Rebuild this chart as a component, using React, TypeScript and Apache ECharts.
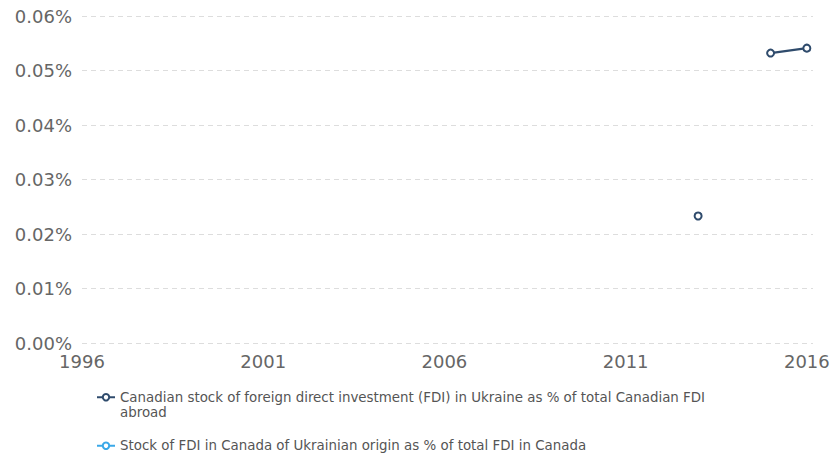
import React, { useEffect, useRef } from "react";
import * as echarts from "echarts";

const years = [1996, 1997, 1998, 1999, 2000, 2001, 2002, 2003, 2004, 2005, 2006, 2007, 2008, 2009, 2010, 2011, 2012, 2013, 2014, 2015, 2016];
const canadianStockShare: (number | null)[] = [null, null, null, null, null, null, null, null, null, null, null, null, null, null, null, null, null, 0.0233, null, 0.0532, 0.0541];
const ukrainianStockShare: (number | null)[] = years.map(() => null);
const seriesNames = [
  "Canadian stock of foreign direct investment (FDI) in Ukraine as % of total Canadian FDI abroad",
  "Stock of FDI in Canada of Ukrainian origin as % of total FDI in Canada",
];
const legendLabels = [
  "\nCanadian stock of foreign direct investment (FDI) in Ukraine as % of total Canadian FDI\nabroad",
  "Stock of FDI in Canada of Ukrainian origin as % of total FDI in Canada",
];
const xTickLabels = [1996, 2001, 2006, 2011, 2016];

const FONT = "DejaVu Sans";

export default function App() {
  const ref = useRef<HTMLDivElement>(null);
  useEffect(() => {
    if (!ref.current) return;
    const chart = echarts.init(ref.current, null, { renderer: "svg" });
    const toPairs = (arr: (number | null)[]) => years.map((y, i) => [y, arr[i] === null ? "-" : arr[i]]);
    const legendText = { color: "#555", fontSize: 13.4, fontFamily: FONT, lineHeight: 15.5 };
    chart.setOption({
      animation: false,
      textStyle: { fontFamily: FONT },
      grid: { left: 82, right: 20, top: 16, bottom: 114, containLabel: false },
      xAxis: {
        type: "value",
        min: 1996,
        max: 2016.17,
        interval: 5,
        axisLine: { show: false },
        axisTick: { show: false },
        splitLine: { show: false },
        axisLabel: {
          color: "#666",
          fontSize: 18,
          fontFamily: FONT,
          margin: 9,
          showMaxLabel: false,
          formatter: (v: number) => (xTickLabels.includes(v) ? String(v) : ""),
        },
      },
      yAxis: {
        type: "value",
        min: 0,
        max: 0.06,
        interval: 0.01,
        axisLine: { show: false },
        axisTick: { show: false },
        splitLine: { show: true, lineStyle: { color: "#dddddd", type: [5, 4], width: 1 } },
        axisLabel: {
          color: "#666",
          fontSize: 18,
          fontFamily: FONT,
          margin: 10,
          formatter: (v: number) => v.toFixed(2) + "%",
        },
      },
      legend: [
        {
          orient: "vertical",
          left: 96,
          top: 374,
          padding: 0,
          itemWidth: 18,
          itemHeight: 8,
          data: [seriesNames[0]],
          formatter: () => legendLabels[0],
          textStyle: legendText,
          selectedMode: false,
        },
        {
          orient: "vertical",
          left: 96,
          top: 438,
          padding: 0,
          itemWidth: 18,
          itemHeight: 8,
          data: [seriesNames[1]],
          formatter: () => legendLabels[1],
          textStyle: legendText,
          selectedMode: false,
        },
      ],
      series: [
        {
          name: seriesNames[0],
          type: "line",
          data: toPairs(canadianStockShare),
          color: "#2f4b6c",
          lineStyle: { width: 2.2, color: "#2f4b6c" },
          symbol: "emptyCircle",
          symbolSize: 7,
          itemStyle: { color: "#2f4b6c", borderWidth: 1.8 },
          connectNulls: false,
        },
        {
          name: seriesNames[1],
          type: "line",
          data: toPairs(ukrainianStockShare),
          color: "#3aa8e8",
          lineStyle: { width: 2.2, color: "#3aa8e8" },
          symbol: "emptyCircle",
          symbolSize: 7,
          itemStyle: { color: "#3aa8e8", borderWidth: 1.8 },
        },
      ],
    });
    return () => chart.dispose();
  }, []);
  return <div ref={ref} style={{ width: 833, height: 457, position: "absolute", left: 0, top: 0 }} />;
}
